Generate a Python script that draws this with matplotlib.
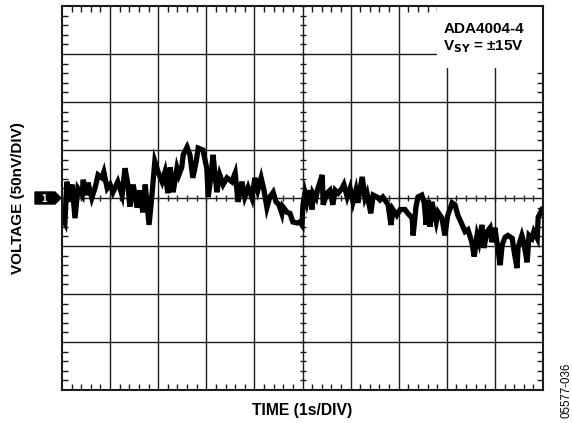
import numpy as np
import matplotlib
matplotlib.use("Agg")
import matplotlib.pyplot as plt
from matplotlib.patches import Rectangle, Polygon

plt.rcParams['font.family'] = ['Liberation Sans', 'DejaVu Sans']

# Time (s) and voltage (nV) of the noise trace
time_s = [0.01, 0.06, 0.10, 0.17, 0.21, 0.27, 0.33, 0.42, 0.44, 0.52, 0.54, 0.62, 0.69, 0.75,
          0.83, 0.87, 0.94, 1.00, 1.06, 1.16, 1.25, 1.31, 1.37, 1.41, 1.48, 1.56, 1.62, 1.68,
          1.73, 1.81, 1.87, 1.93, 2.00, 2.08, 2.14, 2.20, 2.25, 2.31, 2.39, 2.43, 2.49, 2.52,
          2.60, 2.66, 2.72, 2.79, 2.83, 2.93, 3.01, 3.04, 3.10, 3.14, 3.22, 3.28, 3.35, 3.43,
          3.53, 3.60, 3.66, 3.70, 3.74, 3.80, 3.87, 3.95, 4.01, 4.07, 4.14, 4.20, 4.26, 4.32,
          4.39, 4.45, 4.51, 4.57, 4.59, 4.68, 4.74, 4.80, 4.89, 4.95, 4.99, 5.01, 5.05, 5.09,
          5.14, 5.20, 5.22, 5.28, 5.32, 5.41, 5.43, 5.51, 5.57, 5.63, 5.68, 5.74, 5.82, 5.86,
          5.93, 5.99, 6.05, 6.11, 6.15, 6.24, 6.30, 6.34, 6.42, 6.47, 6.55, 6.61, 6.67, 6.74,
          6.78, 6.84, 6.88, 6.96, 7.03, 7.13, 7.19, 7.28, 7.30, 7.36, 7.40, 7.48, 7.53, 7.57,
          7.61, 7.65, 7.69, 7.78, 7.82, 7.90, 7.96, 8.02, 8.11, 8.17, 8.23, 8.32, 8.38, 8.44,
          8.52, 8.57, 8.63, 8.67, 8.73, 8.77, 8.84, 8.90, 8.94, 9.00, 9.06, 9.11, 9.15, 9.21,
          9.27, 9.36, 9.40, 9.46, 9.48, 9.56, 9.60, 9.67, 9.71, 9.77, 9.81, 9.88, 9.90, 9.98]
voltage_nv = [-21, -26, 17, -4, 14, -21, 10, 3, 19, 3, 16, 0, 11, 24,
              21, 27, 10, 14, 6, 17, 3, 31, 14, -9, 14, -10, 8, -15,
              14, -28, 3, 38, 27, 17, 27, 5, 32, 6, 31, 24, 32, 45,
              53, 45, 21, 38, 52, 50, 31, 1, 24, 45, 6, 24, 14, 21,
              17, 26, -4, 6, 17, 1, 11, 0, 21, 8, 21, 8, -10, 1,
              6, -4, -7, -16, -9, -15, -16, -25, -26, -25, -28, -7, 5, -4,
              8, -12, 5, 0, 10, 24, -7, 5, 8, -7, 8, 5, 10, 14,
              1, 10, -4, 8, -5, 22, 0, 5, -16, 3, 1, -2, 1, -4,
              -7, -28, -12, -18, -12, -12, -16, -21, -39, -9, 1, 3, -5, -28,
              -2, -30, -4, -25, -15, -21, -39, -18, -5, -7, -18, -28, -35, -33,
              -46, -61, -39, -46, -28, -52, -35, -31, -46, -31, -52, -70, -49, -41,
              -39, -42, -56, -73, -52, -39, -46, -67, -39, -42, -35, -42, -20, -12]

# Scope settings: 1 s/div, 50 nV/div, 10 x 8 divisions
time_per_div = 1.0
volt_per_div = 50.0
n_hdiv = 10
n_vdiv = 8

W, H = 572, 423
fig = plt.figure(figsize=(W / 100, H / 100), dpi=100)
ax = fig.add_axes([62 / W, 33 / H, 481 / W, 384 / H])

x0, x1 = 0, n_hdiv * time_per_div
y0, y1 = -n_vdiv / 2 * volt_per_div, n_vdiv / 2 * volt_per_div
ax.set_xlim(x0, x1)
ax.set_ylim(y0, y1)

gcol = '#1a1a1a'
# grid
for gx in np.arange(x0 + time_per_div, x1, time_per_div):
    ax.axvline(gx, color=gcol, lw=1.0, zorder=1)
for gy in np.arange(y0 + volt_per_div, y1, volt_per_div):
    ax.axhline(gy, color=gcol, lw=1.0, zorder=1)

# white label box masking grid
ax.add_patch(Rectangle((7.8, 135), x1 - 7.8, y1 - 135, facecolor='white',
                       edgecolor='none', zorder=2))

# minor ticks on the centre lines
xm = np.arange(x0, x1 + 1e-9, time_per_div / 5)
ym = np.arange(y0, y1 + 1e-9, volt_per_div / 5)
ax.plot(xm, np.zeros_like(xm), ls='none', marker='|', ms=4.5, mew=1.0, color=gcol, zorder=2.2)
ax.plot(np.full_like(ym, (x0 + x1) / 2), ym, ls='none', marker='_', ms=4.5, mew=1.0,
        color=gcol, zorder=2.2)

# edge ticks
ax.set_xticks(np.arange(x0, x1 + 1e-9, time_per_div))
ax.set_yticks(np.arange(y0, y1 + 1e-9, volt_per_div))
ax.set_xticks(xm, minor=True)
ax.set_yticks(ym, minor=True)
ax.tick_params(which='both', direction='in', top=True, right=True, bottom=True, left=True,
               labelbottom=False, labelleft=False, color=gcol)
ax.tick_params(which='major', length=0)
ax.tick_params(which='minor', length=4, width=1.0)
for s in ax.spines.values():
    s.set_linewidth(1.5)
    s.set_color(gcol)
    s.set_zorder(4)

# trace
ax.plot(time_s, voltage_nv, color='black', lw=3.8, solid_joinstyle='miter', zorder=3)

# labels
fig.text(18 / W, 1 - 198 / H, 'VOLTAGE (50nV/DIV)', rotation=90, ha='center', va='center',
         fontsize=11, fontweight='bold')
fig.text(302.5 / W, 1 - 410 / H, 'TIME (1s/DIV)', ha='center', va='center',
         fontsize=11.3, fontweight='bold')
fig.text(524 / W, 1 - 33 / H, 'ADA4004-4', ha='right', va='baseline', fontsize=11,
         fontweight='bold')
fig.text(524 / W, 1 - 50 / H, r'V$_{\mathbf{SY}}$ = ±15V', ha='right', va='baseline',
         fontsize=11, fontweight='bold')
fig.text(566 / W, 1 - 390 / H, '05577-036', rotation=90, ha='center', va='center',
         fontsize=8.3)

# channel marker "1"
mk = np.array([[35, 192], [55, 192], [61, 198], [55, 204], [35, 204]], dtype=float)
poly = Polygon(np.column_stack([mk[:, 0] / W, 1 - mk[:, 1] / H]), closed=True,
               transform=fig.transFigure, facecolor='black', edgecolor='black')
fig.patches.append(poly)
fig.text(44 / W, 1 - 198.5 / H, '1', color='white', ha='center', va='center', fontsize=7,
         fontweight='bold')

fig.savefig('out.png', dpi=100)
